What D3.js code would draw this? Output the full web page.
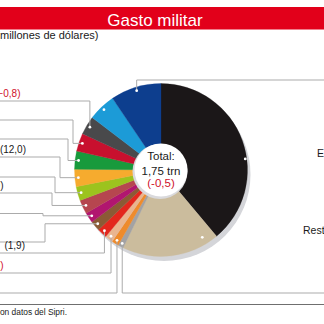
<!DOCTYPE html>
<html>
<head>
<meta charset="utf-8">
<script src="https://cdn.jsdelivr.net/npm/d3@7/dist/d3.min.js"></script>
<style>
  html, body { margin: 0; padding: 0; background: #fff; }
  svg { display: block; font-family: "Liberation Sans", Arial, sans-serif; }
</style>
</head>
<body>
<svg id="chart" width="324" height="324"></svg>
<script>
// ---- data (SIPRI 2012, millones de dólares; cambio % entre paréntesis) ----
const countries = ["EE UU", "Resto", "Turquía", "Canadá", "Australia", "Corea del Sur", "Brasil",
  "Italia", "Alemania", "India", "Arabia Saudí", "Francia", "Japón", "Reino Unido", "Rusia", "China"];
const spending = [682, 321, 18.2, 22.5, 26.2, 31.7, 33.1, 34.0, 45.8, 46.1, 56.7, 58.9, 59.3, 60.8, 90.7, 166];
const change = [-6.0, null, 1.9, -2.4, -4.3, 1.9, 0.5, -5.2, 0.9, -0.5, 12.0, -0.3, -0.6, -0.8, 16.0, 7.8];
const totalLabel = ["Total:", "1,75 trn", "(-0,5)"];
const titleText = "Gasto militar";
const subtitleText = "(millones de dólares)";
const sourceText = "Fuente: elaboración propia con datos del Sipri.";

// ---- colours & layout ----
const colors = ["#1b1718", "#cbbc9d", "#a3a2a3", "#ee8b2c", "#e9b58f", "#e3271d", "#8b5a35",
  "#b1166f", "#b6464f", "#9cc31e", "#f6ab2e", "#189a3c", "#c8102e", "#49494b", "#1c9bd7", "#0d3e8e"];
// leader layout: side, line y, turn x (null = dot x), text end x, dot angle override (deg), dot radius
const layout = [
  {side: "rightText", x: 317, y: 157, angle: 82.5, r: 85},
  {side: "rightText", x: 303, y: 234, angle: 148.5, r: 79},
  {side: "downRight", y: 293},
  {side: "left", y: 293, turn: null, end: -4},
  {side: "left", y: 273, turn: null, end: 3.5},
  {side: "left", y: 253, turn: null, end: 25},
  {side: "left", y: 242, turn: 45, end: -4},
  {side: "left", y: 213.5, turn: 43, end: -4},
  {side: "left", y: 193, turn: 52, end: 3.5},
  {side: "left", y: 177, turn: 55, end: -4},
  {side: "left", y: 157, turn: 60, end: 26},
  {side: "left", y: 139, turn: 68, end: -4},
  {side: "left", y: 120, turn: 73, end: -4},
  {side: "left", y: 101, turn: null, end: 20.5},
  {side: "none"},
  {side: "upRight", y: 80}
];

const W = 324, H = 324;
const cx = 161, cy = 170, R = 86.5, hole = 26.5;
const svg = d3.select("#chart");
const fmt = d3.formatLocale({decimal: ",", thousands: ".", grouping: [3], currency: ["", ""]}).format(".1f");

// title bar
svg.append("rect").attr("x", 0).attr("y", 7).attr("width", W).attr("height", 22.5).attr("fill", "#e2001a");
svg.append("text").attr("x", 155).attr("y", 25.5).attr("text-anchor", "middle")
  .attr("fill", "#fff").attr("font-size", 17).text(titleText);
svg.append("text").attr("x", -3.7).attr("y", 38.5).attr("font-size", 11).attr("fill", "#1a1a1a").text(subtitleText);

// pie
const pie = d3.pie().sort(null).value(d => d);
const arcs = pie(spending);
const arc = d3.arc().innerRadius(0).outerRadius(R);
const g = svg.append("g").attr("transform", `translate(${cx},${cy})`);
g.append("circle").attr("cx", 3).attr("cy", 4.5).attr("r", R).attr("fill", "#d4d5d9");
g.selectAll("path.slice").data(arcs).join("path").attr("class", "slice")
  .attr("d", arc).attr("fill", (d, i) => colors[i]).attr("stroke", (d, i) => colors[i]).attr("stroke-width", 0.3);
g.append("circle").attr("cx", -1).attr("cy", 1.5).attr("r", hole + 1).attr("fill", "#d9d9dc");
g.append("circle").attr("r", hole).attr("fill", "#fff");

// total label
const tl = [160, 175, 187];
totalLabel.forEach((t, i) => {
  g.append("text").attr("x", 0).attr("y", tl[i] - cy).attr("text-anchor", "middle")
    .attr("font-size", 11.5).attr("fill", i === 2 ? "#d0112b" : "#1a1a1a").text(t);
});

// dots + leaders
function dotPos(i) {
  const L = layout[i];
  const a = (L.angle !== undefined) ? L.angle * Math.PI / 180 : (arcs[i].startAngle + arcs[i].endAngle) / 2;
  const r = L.r || 83;
  return [cx + r * Math.sin(a), cy - r * Math.cos(a)];
}
const lines = svg.append("g").attr("fill", "none").attr("stroke", "#ababab").attr("stroke-width", 1);
const labels = svg.append("g").attr("font-size", 10).attr("fill", "#1a1a1a");

arcs.forEach((d, i) => {
  const L = layout[i];
  const [px, py] = dotPos(i);
  const name = countries[i], val = fmt(spending[i]);
  const ch = change[i];
  if (L.side === "left") {
    const tx = L.turn === null ? px : L.turn;
    const pts = [[-20, L.y], [tx, L.y], [tx, py], [px, py]];
    lines.append("path").attr("d", d3.line()(pts));
    const t = labels.append("text").attr("x", L.end).attr("y", L.y - 4).attr("text-anchor", "end");
    t.append("tspan").text(`${name}: ${val}`);
    t.append("tspan").attr("dx", 8).attr("fill", ch < 0 ? "#d0112b" : "#1a1a1a").text(`(${fmt(ch)})`);
  } else if (L.side === "downRight" || L.side === "upRight") {
    lines.append("path").attr("d", d3.line()([[px, py], [px, L.y], [W + 20, L.y]]));
  } else if (L.side === "rightText") {
    const t = labels.append("text").attr("x", L.x).attr("y", L.y).attr("font-size", 10.5);
    t.append("tspan").text(`${name}: ${val}`);
    if (ch !== null) {
      t.append("tspan").attr("fill", ch < 0 ? "#d0112b" : "#1a1a1a").text(` (${fmt(ch)})`);
    }
  }
});
svg.append("g").selectAll("circle").data(arcs).join("circle")
  .attr("cx", (d, i) => dotPos(i)[0]).attr("cy", (d, i) => dotPos(i)[1])
  .attr("r", 1.4).attr("fill", "#fff");

// footer
svg.append("line").attr("x1", 0).attr("x2", W).attr("y1", 304.5).attr("y2", 304.5)
  .attr("stroke", "#6f6f6f").attr("stroke-width", 1);
svg.append("text").attr("x", 67).attr("y", 314.5).attr("text-anchor", "end")
  .attr("font-size", 8.4).attr("fill", "#1a1a1a").text(sourceText);
</script>
</body>
</html>
